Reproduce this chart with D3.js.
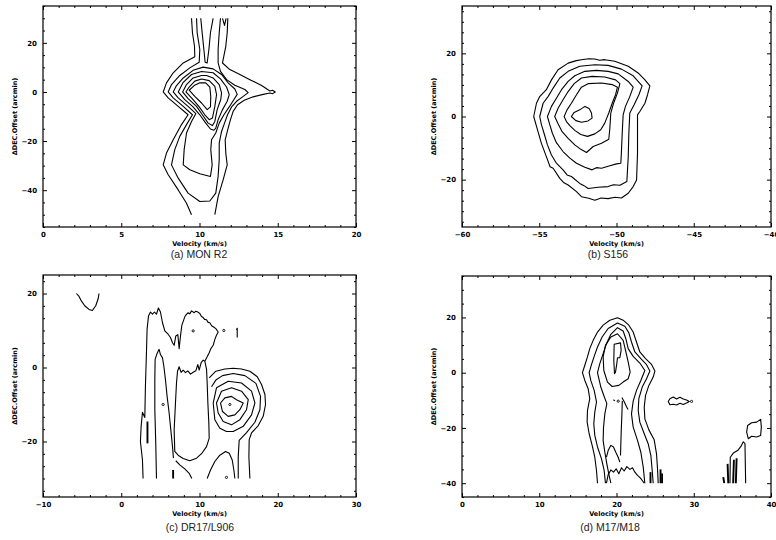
<!DOCTYPE html>
<html>
<head>
<meta charset="utf-8">
<script src="https://cdn.jsdelivr.net/npm/d3@7"></script>
<style>
  body { margin: 0; background: #fff; }
  svg { display: block; }
  .tick text { font-family: "DejaVu Sans", sans-serif; font-weight: bold; font-size: 7px; fill: #000; }
  .tick line { stroke: #000; stroke-width: 1; }
  .axis-title { font-family: "DejaVu Sans", sans-serif; font-weight: bold; font-size: 6.5px; fill: #000; }
  .caption { font-family: "Liberation Sans", Arial, sans-serif; font-size: 10.5px; fill: #222; }
</style>
</head>
<body>
<svg id="chart" width="776" height="540"></svg>
<script>
// ---------- (a) MON R2 : position-velocity contours, [velocity km/s, dec offset arcmin] ----------
const monR2Captions = "(a) MON R2";
const monR2XTicks = [0, 5, 10, 15, 20];
const monR2YTicks = [20, 0, -20, -40];
const monR2Lines = [
  [[9.49,30],[9.55,24.1],[9.68,18.6],[9.7,14.3],[8.96,11.8],[8.32,7.8],[7.89,3.7],[7.68,0],[8.0,-2.4],[8.64,-5.9],[9.27,-9.3],[8.85,-13.3],[8.32,-19.5],[7.89,-24.9],[7.68,-29.7],[8.0,-33.7],[8.64,-39.9],[9.17,-45.3],[9.49,-50]],
  [[11.81,30],[11.77,24.1],[11.68,18.6],[11.47,11.8],[11.94,9.1],[12.58,7.1],[13.22,5.0],[13.97,2.6],[14.5,0.4],[14.67,0.7],[14.84,0],[14.67,-0.7],[14.5,-0.4],[14.07,-1.0],[13.43,-2.0],[12.86,-3.4],[12.43,-5.2],[12.15,-7.9],[11.98,-11.3],[11.83,-14.7],[11.64,-19.5],[11.68,-24.9],[11.77,-29.7],[11.51,-35.8],[11.19,-42.6],[10.98,-50]],
  [[11.47,30],[11.6,27.1],[11.7,30]],
  [[9.81,30],[9.85,24.1],[10.02,17.3],[9.98,12.1],[9.38,9.8],[8.74,6.7],[8.21,3.0],[8.0,0],[8.32,-2.4],[8.96,-5.9],[9.55,-9.3],[9.17,-13.3],[8.74,-18.1],[8.42,-23.5],[8.21,-29.7],[8.64,-35.1],[9.27,-41.2],[10.02,-44.6],[10.66,-44.4],[11.04,-41.2],[11.19,-34.4],[11.26,-27.6],[11.26,-20.8],[11.41,-16.1],[11.6,-12.7],[11.79,-9.3],[12.05,-6.1],[12.37,-3.8],[12.75,-2.0],[13.11,-0.3],[12.9,1.0],[12.26,2.7],[11.73,5.0],[11.34,8.4],[11.19,11.8],[11.19,17.3],[11.26,24.1],[11.34,30]],
  [[10.08,30],[10.17,24.1],[10.28,17.3],[10.36,12.1],[10.49,11.8],[10.6,17.3],[10.7,24.1],[10.87,30]]
];
const monR2Loops = [
  [[10.23,10.1],[9.59,8.8],[8.96,5.7],[8.53,2.6],[8.32,0],[8.64,-2.4],[9.27,-5.9],[9.77,-8.8],[9.49,-12.0],[9.17,-16.7],[9.02,-23.5],[8.96,-29.7],[9.38,-31.7],[10.02,-33.3],[10.7,-34.4],[10.81,-29.7],[10.72,-23.5],[10.77,-19.5],[11.04,-16.7],[11.26,-12.7],[11.56,-9.3],[11.9,-6.1],[12.2,-3.1],[12.41,-1.0],[12.26,1.2],[11.83,3.7],[11.41,7.1],[10.87,9.4]],
  [[10.13,8.3],[9.49,7.1],[8.96,3.9],[8.64,0],[9.06,-3.1],[9.59,-6.1],[10.02,-9.3],[10.4,-12.7],[10.7,-15.1],[10.92,-15.6],[11.04,-14.7],[11.19,-11.3],[11.47,-7.2],[11.77,-3.8],[11.9,-1.1],[11.73,2.0],[11.34,5.3],[10.87,7.8]],
  [[10.13,6.7],[9.59,5.7],[9.17,3.0],[8.92,0],[9.27,-2.7],[9.81,-5.9],[10.23,-9.7],[10.55,-12.7],[10.83,-13.7],[10.98,-12.0],[11.13,-7.2],[11.36,-3.1],[11.41,-0.4],[11.26,3.0],[10.87,5.7],[10.45,6.7]],
  [[10.13,5.3],[9.7,4.4],[9.34,2.0],[9.13,0],[9.49,-2.4],[9.96,-5.9],[10.34,-9.3],[10.62,-11.3],[10.83,-10.6],[10.98,-5.9],[11.09,-1.1],[10.98,2.3],[10.62,4.6]],
  [[10.02,3.7],[9.66,2.6],[9.34,0.7],[9.7,-1.8],[10.13,-4.5],[10.49,-7.2],[10.7,-6.1],[10.72,-1.8],[10.66,2.0],[10.4,3.7]]
];

// ---------- (b) S156 ----------
const s156Caption = "(b) S156";
const s156XTicks = [-60, -55, -50, -45, -40];
const s156YTicks = [20, 0, -20];
const s156Loops = [
  [[-55.36,0],[-55.18,4.2],[-54.97,6.3],[-54.54,8.5],[-54.21,11.6],[-53.78,14.8],[-53.13,16.9],[-52.6,17.7],[-52.27,18.0],[-51.8,18.3],[-51.4,18.2],[-51.1,17.8],[-50.76,18.0],[-50.11,17.5],[-49.24,15.9],[-48.6,13.8],[-48.16,11.6],[-47.84,9.7],[-47.99,6.9],[-48.16,4.2],[-48.49,1.6],[-48.64,0.5],[-48.64,-5.3],[-48.64,-11.6],[-48.7,-20.1],[-48.92,-22.2],[-49.24,-24.3],[-49.68,-25.8],[-50.1,-25.6],[-50.54,-26.0],[-51.0,-25.8],[-51.4,-26.5],[-51.8,-25.9],[-52.27,-25.4],[-52.59,-23.8],[-53.13,-21.7],[-53.4,-21.0],[-53.67,-19.6],[-54.1,-16.4],[-54.3,-15.9],[-54.54,-12.7],[-54.86,-8.5],[-55.08,-4.8]],
  [[-54.97,0],[-54.75,4.2],[-54.43,6.3],[-54.1,9.0],[-53.67,12.2],[-53.13,14.3],[-52.38,15.9],[-51.4,16.4],[-50.54,16.2],[-49.68,15.0],[-48.92,12.9],[-48.34,9.7],[-48.55,6.9],[-48.86,3.7],[-49.14,1.1],[-49.2,-5.3],[-49.24,-12.7],[-49.33,-20.6],[-49.78,-21.8],[-50.2,-21.6],[-50.54,-22.2],[-51.19,-22.4],[-51.84,-22.8],[-52.1,-21.9],[-52.38,-21.2],[-52.92,-19.0],[-53.2,-18.5],[-53.46,-16.9],[-53.89,-14.8],[-54.21,-12.2],[-54.47,-9.0],[-54.69,-5.3],[-54.86,-2.6]],
  [[-54.47,0],[-54.21,3.2],[-53.89,5.8],[-53.56,8.5],[-53.13,11.1],[-52.7,12.9],[-52.05,14.3],[-51.3,14.6],[-50.54,14.3],[-49.89,13.5],[-49.24,11.1],[-48.92,9.3],[-49.14,6.3],[-49.42,3.2],[-49.57,0.5],[-49.63,-5.3],[-49.68,-11.1],[-49.72,-14.8],[-50.0,-15.0],[-50.43,-15.6],[-50.97,-16.4],[-51.3,-16.2],[-51.58,-16.9],[-52.05,-16.1],[-52.59,-14.8],[-53.02,-13.2],[-53.46,-11.1],[-53.89,-8.3],[-54.15,-5.3],[-54.32,-2.6]],
  [[-54.0,0],[-53.78,2.6],[-53.46,5.3],[-53.13,7.9],[-52.74,10.4],[-52.27,12.2],[-51.58,12.7],[-50.76,12.5],[-50.06,11.6],[-49.78,10.4],[-49.94,7.4],[-50.19,4.2],[-50.37,1.1],[-50.43,-3.7],[-50.5,-7.2],[-50.97,-8.5],[-51.51,-9.5],[-51.94,-11.4],[-52.31,-10.4],[-52.7,-9.0],[-53.13,-6.9],[-53.52,-4.8],[-53.78,-2.3]],
  [[-53.39,0],[-53.2,2.1],[-52.92,4.2],[-52.59,6.9],[-52.27,9.3],[-51.84,10.4],[-50.97,10.6],[-50.28,10.1],[-49.94,9.3],[-50.06,6.9],[-50.28,4.2],[-50.5,1.1],[-50.76,-2.1],[-51.02,-4.2],[-51.4,-5.5],[-51.88,-6.3],[-52.31,-5.7],[-52.7,-4.4],[-53.02,-2.9],[-53.24,-1.6]],
  [[-52.92,0],[-52.74,1.3],[-52.38,2.1],[-52.05,3.2],[-51.77,2.5],[-51.62,1.1],[-51.58,-0.5],[-51.84,-1.4],[-52.27,-1.8],[-52.63,-1.3]]
];

// ---------- (c) DR17/L906 ----------
const dr17Caption = "(c) DR17/L906";
const dr17XTicks = [-10, 0, 10, 20, 30];
const dr17YTicks = [20, 0, -20];
const dr17Lines = [
  [[-5.74,20],[-5.39,19.2],[-5.1,18.0],[-4.67,16.7],[-4.12,15.7],[-3.69,15.4],[-3.26,16.7],[-2.96,18.5],[-2.84,20]],
  [[2.79,-30],[2.71,-25.0],[2.45,-20.0],[2.54,-15.9],[2.71,-12.1],[3.01,-13.5],[3.09,-5.1],[3.22,4.0],[3.3,10.3],[3.48,13.9],[3.73,15.0],[3.99,14.4],[4.24,15.0],[4.5,14.4],[4.75,16.1],[5.01,15.0],[5.27,12.1],[5.57,9.9],[5.99,9.0],[6.29,8.1],[6.55,6.7],[6.76,6.0],[6.97,8.5],[7.23,8.9],[7.4,5.1],[7.57,8.5],[7.74,11.4],[8.12,13.7],[8.3,14.3],[8.55,14.8],[8.75,14.5],[8.98,15.3],[9.32,14.8],[9.5,15.2],[9.7,15.1],[10.04,14.6],[10.25,13.8],[10.47,13.5],[10.65,13.0],[10.9,12.9],[11.1,12.2],[11.32,12.1],[11.55,11.3],[11.75,11.0],[12.09,10.5],[12.39,9.6],[12.17,8.7],[11.96,7.6],[11.75,6.0],[11.45,5.1],[11.24,4.0],[10.98,2.9],[10.68,1.7],[10.9,-0.5],[10.98,-4.2],[11.07,-9.6],[11.19,-15.0],[11.24,-19.1],[10.9,-21.4],[10.26,-23.3],[9.62,-24.5],[8.76,-25.2],[7.91,-24.6],[7.27,-23.7],[6.84,-22.7],[6.76,-16.8],[6.93,-9.6],[7.06,-4.2],[7.19,-1.0],[7.4,0.2],[7.65,-1.3],[7.91,-0.7],[8.21,-1.4],[8.51,-0.9],[8.85,-1.8],[9.19,-1.3],[9.53,-0.9],[9.79,0.8],[9.96,-0.7],[10.21,1.3],[10.47,2.0],[10.68,1.7]],
  [[4.5,-30],[4.41,-20.5],[4.29,-11.4],[4.29,-3.3],[4.33,2.2],[4.58,3.8],[4.84,4.9],[5.01,3.5],[5.27,2.6],[5.44,0.4],[5.65,-3.3],[5.86,-7.8],[6.12,-12.3],[6.33,-16.8],[6.55,-21.4],[6.67,-24.5]],
  [[6.97,-25.2],[7.48,-26.3],[8.12,-27.4],[8.68,-28.6],[9.02,-30]],
  [[14.95,-30],[14.95,-24.1],[15.07,-19.7],[16.01,-17.6],[17.08,-14.8],[17.72,-11.4],[17.8,-7.8],[17.21,-4.3],[15.8,-2.2],[14.31,-1.6],[12.94,-2.2],[12.09,-3.4],[11.54,-5.2]],
  [[11.24,-2.8],[12.09,-1.0],[13.24,-0.4],[14.31,-0.2],[15.37,-0.4],[16.44,-1.0],[17.38,-2.5],[17.93,-4.6],[18.36,-7.3],[18.44,-10.0],[18.14,-13.2],[17.51,-15.7],[16.65,-17.7],[16.35,-19.5],[16.31,-24.1],[16.44,-30]],
  [[10.98,-30],[11.41,-27.7],[11.96,-25.4],[12.6,-23.7],[13.33,-22.7],[13.8,-23.2],[14.18,-25.0],[14.39,-27.7],[14.52,-30]],
  [[14.7,10.2],[14.82,10.6],[14.82,8.1]]
];
const dr17Loops = [
  [[12.69,-9.6],[13.24,-8.2],[14.09,-7.8],[14.73,-8.7],[15.59,-9.6],[15.16,-11.4],[14.52,-12.8],[13.67,-13.2],[12.94,-11.9]],
  [[12.17,-9.6],[12.81,-6.4],[14.09,-5.5],[15.37,-6.4],[16.23,-8.7],[16.01,-11.4],[15.16,-14.1],[14.09,-15.5],[13.03,-14.6],[12.39,-12.3]],
  [[11.75,-9.6],[12.17,-5.5],[13.67,-3.7],[15.37,-4.2],[16.65,-6.4],[17.08,-9.6],[16.65,-12.8],[15.59,-15.9],[14.31,-17.3],[13.45,-17.3],[12.6,-16.4],[11.96,-14.1]]
];
const dr17Bars = [
  [[3.35,-14.6],[3.35,-20.5]],
  [[6.63,-27.7],[6.63,-30]]
];
const dr17Dots = [[9.19,9.9],[5.35,-10.0],[13.11,10.0],[13.45,-29.7],[13.88,-10.0]];

// ---------- (d) M17/M18 ----------
const m17Caption = "(d) M17/M18";
const m17XTicks = [0, 10, 20, 30, 40];
const m17YTicks = [20, 0, -20, -40];
const m17Lines = [
  [[17.54,-40],[17.41,-35.4],[17.19,-30.6],[16.85,-26.3],[16.46,-22.1],[16.2,-17.9],[16.24,-13.7],[16.54,-9.4],[16.33,-5.8],[15.9,-2.8],[15.59,0],[15.9,2.7],[16.24,5.7],[16.54,8.7],[16.98,11.7],[17.54,14.7],[18.27,17.2],[19.14,19.0],[20.13,19.9],[20.86,19.0],[21.6,17.2],[22.16,14.7],[22.59,11.1],[23.02,7.5],[23.76,5.1],[24.54,3.0],[24.97,0.6],[24.75,-1.6],[24.19,-4.6],[23.76,-8.2],[23.59,-12.4],[23.67,-16.7],[24.19,-20.7],[24.88,-24.3],[25.18,-29.4],[25.31,-34.8],[25.4,-40]],
  [[18.57,-40],[18.4,-35.4],[18.06,-31.2],[17.54,-26.9],[17.19,-22.7],[17.06,-18.5],[17.19,-14.3],[17.41,-10.6],[17.11,-6.4],[16.67,-2.8],[16.46,0],[16.76,2.9],[17.11,5.9],[17.54,9.3],[18.14,12.9],[18.92,16.0],[20.13,18.0],[21.08,16.8],[21.6,14.4],[21.94,11.1],[22.38,7.5],[23.15,5.1],[23.89,2.9],[24.32,0.6],[23.89,-2.2],[23.33,-5.2],[22.89,-9.4],[22.81,-13.7],[23.02,-17.9],[23.59,-22.1],[24.1,-25.7],[24.45,-30.0],[24.62,-35.4],[24.75,-40]],
  [[19.27,-40],[19.0,-36.6],[18.75,-33.0],[18.49,-28.8],[18.27,-24.5],[18.32,-19.7],[18.49,-14.9],[18.75,-11.2],[18.4,-8.6],[17.97,-5.2],[17.54,0],[17.84,3.3],[18.27,6.9],[18.7,10.5],[19.27,13.9],[20.13,16.3],[20.86,15.1],[21.21,12.3],[21.51,8.7],[22.16,5.9],[23.02,3.5],[23.67,0.8],[23.15,-2.8],[22.59,-6.4],[22.16,-10.3],[21.94,-14.9],[22.16,-19.7],[22.72,-24.5],[23.15,-28.8],[23.46,-34.2],[23.67,-40]],
  [[20.7,-9.0],[21.0,-10.5],[21.3,-12.3],[21.5,-13.3]],
  [[20.75,-10.2],[20.7,-15.0],[20.6,-22.0],[20.52,-30.0]],
  [[19.6,-9.8],[19.8,-10.2]],
  [[18.7,-30.6],[18.92,-28.2],[19.27,-26.3],[19.61,-26.9],[19.91,-28.8],[20.22,-30.6],[20.43,-32.4]],
  [[18.7,-40],[18.92,-36.9],[19.27,-35.2],[19.61,-36.0],[19.96,-34.8],[20.3,-36.6],[20.65,-34.4],[20.99,-35.6],[21.34,-34.0],[21.73,-35.0],[22.07,-34.4],[22.38,-36.0],[22.72,-37.2],[23.07,-38.1],[23.41,-39.3],[23.59,-40]],
  [[34.69,-40],[34.73,-30.6],[35.12,-29.1],[35.68,-28.2],[36.11,-26.7],[36.41,-25.0],[36.63,-25.7],[36.72,-40]]
];
const m17Loops = [
  [[20.13,14.1],[19.27,12.9],[18.57,9.9],[18.27,5.7],[18.36,0.8],[18.83,-3.4],[19.44,-5.0],[20.3,-4.6],[20.86,-3.4],[21.51,-2.2],[21.77,0.2],[21.51,3.9],[21.17,8.1],[20.86,11.7]],
  [[19.7,10.3],[20.52,10.8],[20.6,8.1],[20.43,5.4],[20.13,5.4],[20.04,3.3],[19.87,0.2],[19.74,-0.4],[19.65,4.5]],
  [[26.91,-9.4],[27.34,-8.8],[27.78,-9.5],[28.21,-8.9],[28.64,-9.5],[29.07,-9.9],[29.42,-10.4],[29.07,-11.0],[28.64,-11.5],[28.21,-11.1],[27.78,-11.7],[27.34,-11.4],[26.91,-11.6],[26.7,-10.4]],
  [[36.98,-19.1],[37.49,-18.1],[38.14,-17.9],[38.66,-16.9],[38.75,-19.7],[38.66,-22.7],[38.14,-23.3],[37.49,-23.0],[37.06,-23.9],[36.85,-21.5]]
];
const m17Bars = [
  [[24.4,-36],[24.4,-40]],
  [[25.7,-35],[25.7,-40]],
  [[25.9,-36.5],[25.9,-40]],
  [[33.82,-37.8],[33.95,-40]],
  [[34.38,-33],[34.47,-40]],
  [[35.2,-31.5],[35.1,-40]],
  [[35.55,-31],[35.45,-40]]
];
const m17Dots = [[20.22,-10.3],[29.72,-10.4]];

// ---------- layout ----------
const svg = d3.select("#chart");
const fmt = d => (d < 0 ? "\u2212" : "") + Math.abs(d);

function stepTicks(dom, step, majors) {
  const lo = Math.min(dom[0], dom[1]), hi = Math.max(dom[0], dom[1]);
  const out = [];
  for (let k = Math.ceil(lo / step - 1e-9); k * step <= hi + 1e-9; k++) {
    const v = k * step;
    if (!majors.some(m => Math.abs(m - v) < 1e-6)) out.push(v);
  }
  return out;
}

function drawPanel(p) {
  const b = p.box;
  const x = d3.scaleLinear().domain(p.xDomain).range([b.x0, b.x1]);
  const y = d3.scaleLinear().domain(p.yDomain).range([b.y1, b.y0]);
  const g = svg.append("g");

  const clipId = "clip-" + p.key;
  svg.append("clipPath").attr("id", clipId).append("rect")
    .attr("x", b.x0).attr("y", b.y0).attr("width", b.x1 - b.x0).attr("height", b.y1 - b.y0);

  const plot = g.append("g").attr("clip-path", `url(#${clipId})`);
  const open = d3.line().x(d => x(d[0])).y(d => y(d[1]));
  const closed = d3.line().x(d => x(d[0])).y(d => y(d[1])).curve(d3.curveLinearClosed);

  plot.selectAll("path.open").data(p.lines || []).join("path")
    .attr("class", "open").attr("d", open)
    .attr("fill", "none").attr("stroke", "#000").attr("stroke-width", 1.1).attr("stroke-linejoin", "round");
  plot.selectAll("path.closed").data(p.loops || []).join("path")
    .attr("class", "closed").attr("d", closed)
    .attr("fill", "none").attr("stroke", "#000").attr("stroke-width", 1.1).attr("stroke-linejoin", "round");
  plot.selectAll("path.bar").data(p.bars || []).join("path")
    .attr("class", "bar").attr("d", open)
    .attr("fill", "none").attr("stroke", "#000").attr("stroke-width", 1.9);
  plot.selectAll("circle").data(p.dots || []).join("circle")
    .attr("cx", d => x(d[0])).attr("cy", d => y(d[1])).attr("r", 1.1)
    .attr("fill", "none").attr("stroke", "#000").attr("stroke-width", 0.9);

  const xMinor = stepTicks(p.xDomain, p.xMinorStep, p.xTicks);
  const yMinor = stepTicks(p.yDomain, p.yMinorStep, p.yTicks);

  const axes = [
    [d3.axisBottom(x).tickValues(p.xTicks).tickSize(-4).tickPadding(5).tickFormat(fmt), 0, b.y1],
    [d3.axisBottom(x).tickValues(xMinor).tickSize(-2).tickFormat(""), 0, b.y1],
    [d3.axisTop(x).tickValues(p.xTicks).tickSize(-4).tickFormat(""), 0, b.y0],
    [d3.axisTop(x).tickValues(xMinor).tickSize(-2).tickFormat(""), 0, b.y0],
    [d3.axisLeft(y).tickValues(p.yTicks).tickSize(-4).tickPadding(6).tickFormat(fmt), b.x0, 0],
    [d3.axisLeft(y).tickValues(yMinor).tickSize(-2).tickFormat(""), b.x0, 0],
    [d3.axisRight(y).tickValues(p.yTicks).tickSize(-4).tickFormat(""), b.x1, 0],
    [d3.axisRight(y).tickValues(yMinor).tickSize(-2).tickFormat(""), b.x1, 0]
  ];
  axes.forEach(([ax, tx, ty]) => {
    const a = g.append("g").attr("transform", `translate(${tx},${ty})`).call(ax);
    a.select(".domain").remove();
    a.attr("font-family", null).attr("font-size", null);
  });

  g.append("rect")
    .attr("x", b.x0).attr("y", b.y0).attr("width", b.x1 - b.x0).attr("height", b.y1 - b.y0)
    .attr("fill", "none").attr("stroke", "#000").attr("stroke-width", 1.2);

  g.append("text").attr("class", "axis-title")
    .attr("x", (b.x0 + b.x1) / 2).attr("y", b.y1 + 18.5)
    .attr("text-anchor", "middle").text("Velocity (km/s)");

  g.append("text").attr("class", "axis-title")
    .attr("transform", `translate(${b.x0 - 26},${(b.y0 + b.y1) / 2}) rotate(-90)`)
    .attr("text-anchor", "middle").text("\u0394DEC.Offset (arcmin)");

  g.append("text").attr("class", "caption")
    .attr("x", p.captionX).attr("y", b.y1 + p.captionGap)
    .attr("text-anchor", "middle").text(p.caption);
}

drawPanel({
  key: "a", box: { x0: 43, x1: 356, y0: 6, y1: 227 },
  xDomain: [0, 20], yDomain: [-55, 35],
  xTicks: monR2XTicks, yTicks: monR2YTicks, xMinorStep: 1, yMinorStep: 5,
  lines: monR2Lines, loops: monR2Loops,
  caption: monR2Captions, captionX: 199, captionGap: 30.5
});
drawPanel({
  key: "b", box: { x0: 462, x1: 771, y0: 6, y1: 227 },
  xDomain: [-60, -40], yDomain: [-35, 35],
  xTicks: s156XTicks, yTicks: s156YTicks, xMinorStep: 1, yMinorStep: 20 / 6,
  loops: s156Loops,
  caption: s156Caption, captionX: 608, captionGap: 30.5
});
drawPanel({
  key: "c", box: { x0: 43, x1: 356, y0: 275, y1: 497 },
  xDomain: [-10, 30], yDomain: [-35, 25],
  xTicks: dr17XTicks, yTicks: dr17YTicks, xMinorStep: 2, yMinorStep: 20 / 6,
  lines: dr17Lines, loops: dr17Loops, bars: dr17Bars, dots: dr17Dots,
  caption: dr17Caption, captionX: 200, captionGap: 34
});
drawPanel({
  key: "d", box: { x0: 462, x1: 771, y0: 276, y1: 497 },
  xDomain: [0, 40], yDomain: [-45, 35],
  xTicks: m17XTicks, yTicks: m17YTicks, xMinorStep: 2, yMinorStep: 5,
  lines: m17Lines, loops: m17Loops, bars: m17Bars, dots: m17Dots,
  caption: m17Caption, captionX: 610, captionGap: 34
});
</script>
</body>
</html>
